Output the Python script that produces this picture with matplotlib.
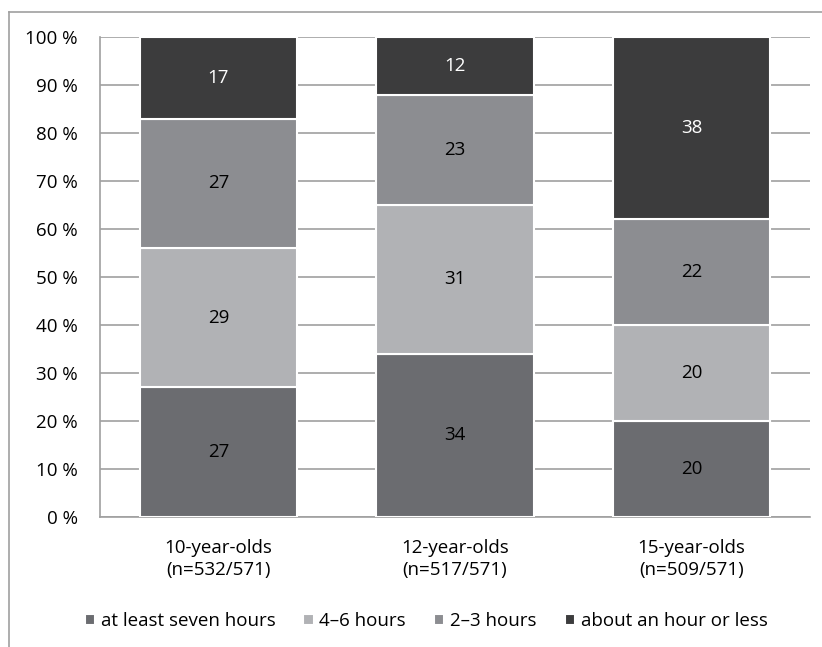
import matplotlib.pyplot as plt
from matplotlib.lines import Line2D
import numpy as np

plt.rcParams['font.family'] = ['Open Sans', 'DejaVu Sans']

groups = ['10-year-olds\n(n=532/571)', '12-year-olds\n(n=517/571)', '15-year-olds\n(n=509/571)']
series = ['at least seven hours', '4\u20136 hours', '2\u20133 hours', 'about an hour or less']
at_least_seven = [27, 34, 20]
four_to_six = [29, 31, 20]
two_to_three = [27, 23, 22]
hour_or_less = [17, 12, 38]
colors = ['#6b6c70', '#b1b2b5', '#8c8d91', '#3c3c3d']
text_colors = ['black', 'black', 'black', 'white']

values = [at_least_seven, four_to_six, two_to_three, hour_or_less]
fs = 13.5

fig = plt.figure(figsize=(8.22, 6.47), dpi=100)
ax = fig.add_axes([100 / 822, 1 - 517 / 647, 710 / 822, 480 / 647])

x = np.arange(len(groups))
bottom = np.zeros(len(groups))
for vals, col, tcol, name in zip(values, colors, text_colors, series):
    ax.bar(x, vals, width=0.665, bottom=bottom, color=col,
           edgecolor='white', linewidth=1.5, label=name, zorder=3)
    for xi, b, v in zip(x, bottom, vals):
        ax.text(xi, b + v / 2, str(v), ha='center', va='center',
                color=tcol, fontsize=fs, zorder=4)
    bottom += np.array(vals)

ax.set_xlim(-0.5, 2.5)
ax.set_ylim(0, 100)
ax.set_yticks(range(0, 101, 10))
ax.set_yticklabels([f'{t} %' for t in range(0, 101, 10)], fontsize=fs)
ax.set_xticks(x)
ax.set_xticklabels(groups, fontsize=fs, linespacing=1.25)
ax.tick_params(axis='both', length=0)
ax.tick_params(axis='y', pad=16)
ax.tick_params(axis='x', pad=16)
ax.yaxis.grid(True, color='#a0a0a0', linewidth=1.2, zorder=0)
for side in ['top', 'right']:
    ax.spines[side].set_visible(False)
for side in ['left', 'bottom']:
    ax.spines[side].set_color('#a0a0a0')
    ax.spines[side].set_linewidth(1.2)

handles, labels = ax.get_legend_handles_labels()
fig.legend(handles, labels, loc='center', bbox_to_anchor=(426 / 822, 1 - 621 / 647),
           ncol=4, frameon=False, fontsize=fs, handlelength=0.55, handleheight=0.55,
           handletextpad=0.3, columnspacing=1.5)

# outer frame around the chart
fig.add_artist(Line2D([9 / 822, 9 / 822], [0, 1 - 12 / 647], color='#a0a0a0', lw=1.2))
fig.add_artist(Line2D([9 / 822, 1], [1 - 12 / 647, 1 - 12 / 647], color='#a0a0a0', lw=1.2))

fig.savefig('out.png', dpi=100)
